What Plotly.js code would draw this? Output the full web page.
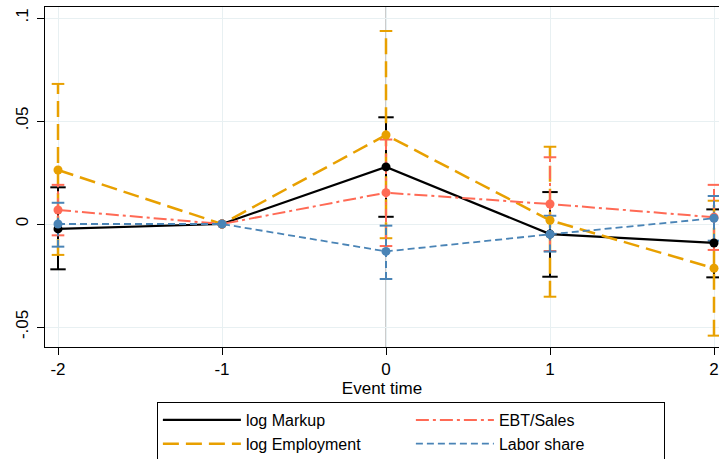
<!DOCTYPE html>
<html>
<head>
<meta charset="utf-8">
<script src="https://cdn.plot.ly/plotly-3.0.1.min.js"></script>
<style>html,body{margin:0;padding:0;background:#fff;}#chart{width:719px;height:459px;}</style>
</head>
<body>
<div id="chart"></div>
<script>
// ---- data ----
var eventTime = [-2, -1, 0, 1, 2];
var markup    = [-0.0024, 0, 0.0277, -0.0049, -0.0092];
var markupLo  = [-0.0220, null, 0.0035, -0.0256, -0.0259];
var markupHi  = [0.0178, null, 0.0518, 0.0155, 0.0071];
var employment   = [0.0262, 0, 0.0432, 0.0018, -0.0215];
var employmentLo = [-0.0150, null, -0.0069, -0.0353, -0.0542];
var employmentHi = [0.0680, null, 0.0937, 0.0375, 0.0113];
var ebtSales   = [0.0068, 0, 0.0152, 0.0097, 0.0033];
var ebtSalesLo = [-0.0055, null, -0.0107, -0.0131, -0.0126];
var ebtSalesHi = [0.0190, null, 0.0410, 0.0324, 0.0190];
var laborShare   = [0.0000, 0, -0.0133, -0.0050, 0.0028];
var laborShareLo = [-0.0110, null, -0.0267, -0.0134, -0.0081];
var laborShareHi = [0.0103, null, -0.0008, 0.0040, 0.0136];
var seriesNames = ['log Markup', 'log Employment', 'EBT/Sales', 'Labor share'];
var yTickVals = [-0.05, 0, 0.05, 0.1];
var yTickText = ['-.05', '0', '.05', '.1'];
var xTickVals = [-2, -1, 0, 1, 2];

var FONT = 'Liberation Sans, Arial, Helvetica, sans-serif';

function ciTrace(lo, hi, color, dash, width, capSize) {
  var xs = [], ys = [];
  for (var i = 0; i < eventTime.length; i++) {
    if (lo[i] === null || hi[i] === null) continue;
    xs.push(eventTime[i], eventTime[i], null);
    ys.push(lo[i], hi[i], null);
  }
  return {
    type: 'scatter', mode: 'lines+markers', x: xs, y: ys, showlegend: false, hoverinfo: 'skip',
    line: {color: color, width: width, dash: dash},
    marker: {symbol: 'line-ew', size: capSize, color: color, line: {color: color, width: 2}}
  };
}
function lineTrace(name, ys, color, dash, width, rank) {
  return {type: 'scatter', mode: 'lines', name: name, x: eventTime, y: ys, legendrank: rank,
          line: {color: color, width: width, dash: dash}};
}
function markerTrace(ys, color) {
  return {type: 'scatter', mode: 'markers', x: eventTime, y: ys, showlegend: false,
          marker: {color: color, size: 9}};
}

var cBlack = '#000000', cOrange = '#E8A000', cRed = '#FF6A55', cBlue = '#4A84B6';
var dOrange = '16px,7px', dRed = '13px,4px,3px,4px', dBlue = '7px,4px';

var traces = [
  ciTrace(markupLo, markupHi, cBlack, 'solid', 2, 11),
  ciTrace(employmentLo, employmentHi, cOrange, dOrange, 2.5, 9),
  ciTrace(ebtSalesLo, ebtSalesHi, cRed, dRed, 2, 9),
  ciTrace(laborShareLo, laborShareHi, cBlue, dBlue, 2, 9),
  lineTrace(seriesNames[0], markup, cBlack, 'solid', 2.2, 1), markerTrace(markup, cBlack),
  lineTrace(seriesNames[1], employment, cOrange, dOrange, 2.5, 3), markerTrace(employment, cOrange),
  lineTrace(seriesNames[2], ebtSales, cRed, dRed, 2, 2), markerTrace(ebtSales, cRed),
  lineTrace(seriesNames[3], laborShare, cBlue, dBlue, 1.8, 4), markerTrace(laborShare, cBlue)
];

var layout = {
  width: 719, height: 459,
  margin: {l: 45, r: 0, t: 7, b: 112, autoexpand: false},
  paper_bgcolor: '#fff', plot_bgcolor: '#fff',
  font: {family: FONT, size: 17, color: '#000'},
  showlegend: true,
  xaxis: {
    range: [-2.0793, 2.0305], tickvals: xTickVals, ticktext: xTickVals.map(String),
    showline: true, linecolor: '#000', linewidth: 1, mirror: true,
    ticks: 'outside', ticklen: 7, tickcolor: '#000', tickwidth: 1,
    showgrid: true, gridcolor: '#E8F0F2', gridwidth: 1, zeroline: false,
    tickfont: {family: FONT, size: 17, color: '#000'},
    title: {text: 'Event time', font: {family: FONT, size: 17, color: '#000'}, standoff: 3}
  },
  yaxis: {
    range: [-0.05971, 0.10534], tickvals: yTickVals, ticktext: yTickText, tickangle: -90,
    showline: true, linecolor: '#000', linewidth: 1, mirror: false,
    ticks: 'outside', ticklen: 7, tickcolor: '#000', tickwidth: 1,
    showgrid: true, gridcolor: '#E8F0F2', gridwidth: 1, zeroline: false,
    tickfont: {family: FONT, size: 17, color: '#000'}, ticklabelstandoff: 2
  },
  shapes: [{type: 'line', xref: 'x', yref: 'paper', x0: 0, x1: 0, y0: 0, y1: 1,
            line: {color: '#999999', width: 1}, layer: 'below'}],
  legend: {
    orientation: 'h', x: 0.166, xanchor: 'left', y: -0.1618, yanchor: 'top',
    bordercolor: '#000', borderwidth: 1, bgcolor: '#fff',
    font: {family: FONT, size: 16, color: '#000'},
    itemwidth: 78, entrywidth: 160, traceorder: 'normal', tracegroupgap: 0,
    itemclick: false, itemdoubleclick: false
  }
};

Plotly.newPlot('chart', traces, layout, {displayModeBar: false, staticPlot: true});
</script>
</body>
</html>
